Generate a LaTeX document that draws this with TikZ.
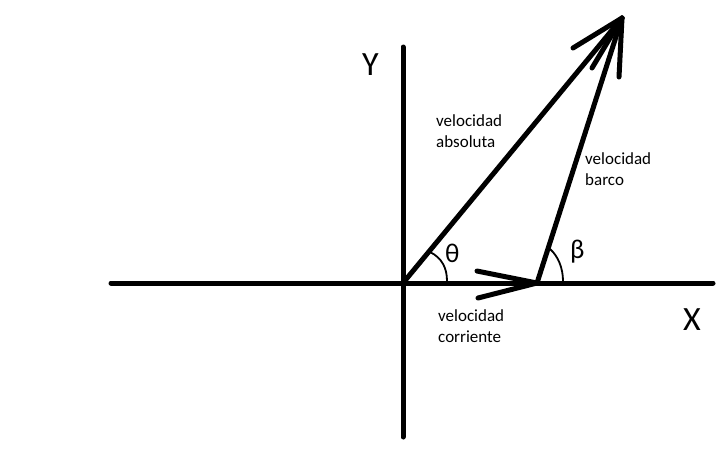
\documentclass[tikz,border=0pt]{standalone}
\usepackage{fontspec}
\setmainfont{Carlito}
\begin{document}
\begin{tikzpicture}[x=1pt,y=-1pt,
  ln/.style={line width=5pt,line cap=round,line join=round},
  thin/.style={line width=1.8pt,line cap=round},
  lbl/.style={font=\fontsize{17}{20.5}\selectfont,align=left,anchor=base west,inner sep=0pt},
  big/.style={font=\fontsize{34}{34}\selectfont,anchor=base west,inner sep=0pt},
  ang/.style={font=\fontsize{27}{27}\selectfont,anchor=base west,inner sep=0pt}]
\useasboundingbox (0,0) rectangle (727,448);
\coordinate (xl) at (111,283);
\coordinate (xr) at (713,283);
\coordinate (yt) at (403,47);
\coordinate (yb) at (403,437);
\coordinate (O) at (403,283);
\coordinate (C) at (537,283);
\coordinate (T) at (622,18);
\coordinate (b1) at (573,48);
\coordinate (b2) at (592,68);
\coordinate (b3) at (619,77);
\coordinate (c1) at (477,271);
\coordinate (c2) at (478,298);
\draw[ln] (xl) -- (xr);
\draw[ln] (yt) -- (yb);
\draw[ln] (O) -- (T);
\draw[ln] (C) -- (T);
\draw[ln] (T) -- (b1);
\draw[ln] (T) -- (b2);
\draw[ln] (T) -- (b3);
\draw[ln] (c1) -- (C) -- (c2);
\draw[thin] (430,252) .. controls (442,258) and (447,268) .. (447,281);
\draw[thin] (550,249) .. controls (558,256) and (563,268) .. (563,281);
\node[big] (Y) at (362,75) {Y};
\node[big] (X) at (683,330) {X};
\node[ang] (th) at (445,262) {θ};
\node[ang] (be) at (570,258) {β};
\node[lbl] (abs) at (436,147) {velocidad\\absoluta};
\node[lbl] (bar) at (585,185) {velocidad\\barco};
\node[lbl] (cor) at (438,342) {velocidad\\corriente};
\end{tikzpicture}
\end{document}
